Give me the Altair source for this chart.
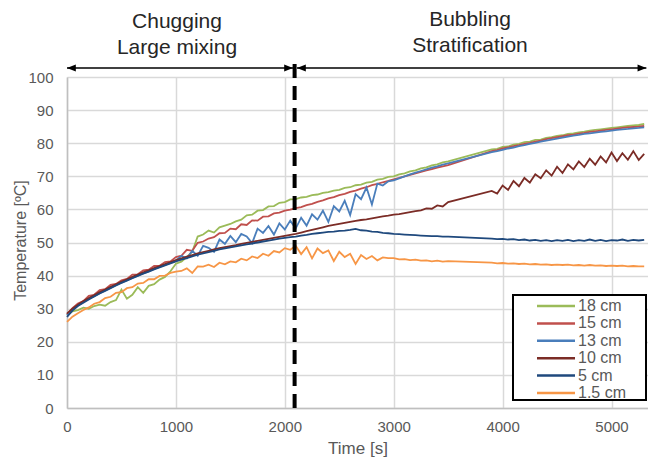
import altair as alt
import pandas as pd

# sampling times [s] (logger gap between 3500 s and 3900 s)
TIME = list(range(0, 3501, 50)) + list(range(3900, 5301, 50))

SERIES = ["18 cm", "15 cm", "13 cm", "10 cm", "5 cm", "1.5 cm"]
COLORS = ["#9BBB59", "#C0504D", "#4A7EBB", "#7B2C26", "#1F497D", "#F79646"]

T18 = [28.0, 29.2, 29.6, 30.3, 30.0, 30.8, 31.2, 30.9, 32.0, 32.6,
       35.8, 33.0, 34.2, 36.5, 34.8, 36.9, 37.4, 38.8, 39.6, 41.3,
       43.6, 44.2, 45.6, 47.2, 51.8, 52.4, 53.6, 53.0, 54.6, 55.1,
       55.6, 56.4, 56.9, 58.2, 58.4, 59.6, 59.8, 60.9, 61.0, 62.0,
       62.2, 63.0, 63.1, 63.6, 63.8, 64.3, 64.5, 65.0, 65.2, 65.7,
       65.9, 66.5, 66.7, 67.3, 67.5, 68.1, 68.3, 69.0, 69.2, 69.8,
       70.0, 70.6, 70.9, 71.5, 71.8, 72.4, 72.7, 73.3, 73.6, 74.2,
       74.5,
       78.1, 78.3, 78.9, 79.0, 79.6, 79.8, 80.3, 80.5, 81.0, 81.1,
       81.6, 81.8, 82.2, 82.4, 82.8, 83.0, 83.3, 83.5, 83.8, 84.0,
       84.2, 84.4, 84.6, 84.8, 85.0, 85.2, 85.4, 85.5, 85.8]

T15 = [28.4, 30.2, 31.6, 32.3, 33.9, 34.2, 35.6, 35.9, 37.2, 37.5,
       38.6, 39.0, 40.3, 40.4, 41.6, 41.8, 42.9, 43.0, 44.1, 44.3,
       45.6, 46.0, 47.8, 47.5, 49.9, 50.3, 51.2, 51.6, 52.8, 52.9,
       54.2, 54.0, 55.5, 55.3, 56.7, 56.6, 57.8, 57.9, 58.8, 59.0,
       59.6, 59.9, 60.4, 60.7, 61.3, 61.7, 62.3, 62.7, 63.3, 63.7,
       64.3, 64.7, 65.3, 65.7, 66.3, 66.7, 67.3, 67.7, 68.2, 68.6,
       69.1, 69.5, 70.0, 70.4, 70.9, 71.3, 71.8, 72.2, 72.6, 73.0,
       73.4,
       77.6, 77.9, 78.4, 78.7, 79.1, 79.4, 79.8, 80.1, 80.5, 80.8,
       81.2, 81.5, 81.8, 82.1, 82.4, 82.6, 82.9, 83.1, 83.4, 83.6,
       83.8, 84.0, 84.2, 84.4, 84.6, 84.8, 84.9, 85.0, 85.2]

T13 = [28.0, 29.8, 31.0, 32.0, 33.0, 33.8, 34.7, 35.5, 36.3, 37.1,
       37.9, 38.6, 39.3, 40.0, 40.7, 41.3, 42.0, 42.6, 43.2, 43.8,
       44.5, 46.0, 45.2, 47.5, 46.0, 49.0, 48.4, 47.2, 50.9, 49.6,
       52.0, 50.1, 52.6, 51.8, 49.8, 54.2, 52.9, 55.0, 52.4, 55.8,
       53.9, 56.6, 54.2, 57.5, 55.1, 58.5, 56.9, 59.6, 56.2, 61.0,
       59.4, 62.6, 58.3, 64.6, 63.1, 66.6, 61.5, 67.8, 67.2, 68.5,
       68.8, 69.4, 70.0, 70.6, 71.1, 71.6, 72.1, 72.6, 73.0, 73.5,
       73.9,
       77.3, 77.6, 78.0, 78.4, 78.7, 79.1, 79.4, 79.8, 80.1, 80.5,
       80.8, 81.1, 81.4, 81.7, 82.0, 82.3, 82.5, 82.8, 83.0, 83.2,
       83.4, 83.6, 83.8, 84.0, 84.2, 84.3, 84.5, 84.6, 84.8]

T10 = [28.5, 30.0, 31.2, 32.3, 33.2, 34.1, 35.0, 35.8, 36.6, 37.4,
       38.2, 38.9, 39.6, 40.3, 41.0, 41.6, 42.3, 42.9, 43.5, 44.1,
       44.7, 45.2, 45.7, 46.2, 46.7, 47.1, 47.5, 47.9, 48.3, 48.6,
       48.9, 49.2, 49.6, 49.9, 50.2, 50.5, 50.8, 51.1, 51.4, 51.7,
       52.0, 52.3, 52.6, 53.0, 53.4, 53.8, 54.2, 54.6, 55.0, 55.3,
       55.6, 55.9, 56.2, 56.5, 56.8, 57.0, 57.3, 57.6, 57.9, 58.1,
       58.4, 58.6, 58.9, 59.2, 59.5, 59.7, 60.3, 60.2, 61.2, 60.9,
       62.2,
       65.6, 64.8, 67.2, 65.9, 68.6, 67.0, 69.5, 68.1, 70.6, 69.4,
       71.8, 70.2, 72.9, 71.0, 73.6, 72.1, 74.5, 72.8, 75.3, 73.5,
       76.0, 74.2, 77.2, 74.6, 77.0, 75.0, 77.6, 74.9, 76.8]

T5 = [27.5, 29.4, 30.8, 31.8, 32.8, 33.7, 34.6, 35.4, 36.2, 37.0,
      37.8, 38.5, 39.2, 39.9, 40.6, 41.2, 41.9, 42.5, 43.1, 43.7,
      44.3, 44.8, 45.3, 45.8, 46.3, 46.7, 47.1, 47.5, 47.9, 48.2,
      48.5, 48.8, 49.1, 49.4, 49.7, 50.0, 50.3, 50.6, 50.9, 51.2,
      51.4, 51.6, 51.8, 52.1, 52.3, 52.6, 52.8, 53.0, 53.2, 53.3,
      53.5, 53.6, 53.8, 54.1, 53.7, 53.6, 53.3, 53.2, 52.9, 52.8,
      52.6, 52.5, 52.4, 52.3, 52.2, 52.1, 52.0, 51.9, 51.9, 51.8,
      51.8,
      51.2, 51.0, 51.1, 50.9, 51.0, 50.7, 50.9, 50.6, 50.8, 50.5,
      50.7, 50.4, 50.7, 50.5, 50.8, 50.4, 50.7, 50.5, 50.9, 50.5,
      50.8, 50.4, 50.7, 50.6, 50.9, 50.5, 50.8, 50.6, 50.8]

T1_5 = [26.0, 27.6, 28.6, 29.6, 30.4, 31.5, 32.0, 33.2, 33.6, 34.8,
        35.0, 36.2, 36.5, 37.6, 37.8, 38.9, 38.9, 39.9, 40.0, 40.8,
        41.2, 41.4, 42.2, 40.8, 42.8, 42.7, 43.3, 42.6, 43.9, 43.4,
        44.3, 44.0, 45.1, 44.6, 45.8, 45.3, 46.6, 46.0, 47.4, 47.0,
        48.3, 47.8, 49.0, 46.5, 48.6, 45.2, 48.2, 46.8, 47.6, 44.4,
        47.2, 45.6, 46.6, 43.5, 46.2, 45.0, 45.9, 44.6, 45.5, 45.3,
        45.3, 44.9, 45.0, 44.7, 44.8, 44.5, 44.6, 44.3, 44.5, 44.2,
        44.4,
        43.9, 43.7, 43.8, 43.6, 43.7, 43.5, 43.6, 43.4, 43.5, 43.3,
        43.4, 43.2, 43.3, 43.2, 43.3, 43.1, 43.2, 43.0, 43.2, 43.0,
        43.1, 42.9, 43.0, 42.9, 43.0, 42.8, 42.9, 42.8, 42.8]

X_TICKS = [0, 1000, 2000, 3000, 4000, 5000]
Y_TICKS = [0, 10, 20, 30, 40, 50, 60, 70, 80, 90, 100]
SWITCH_TIME = 2090

rows = []
for name, vals in zip(SERIES, [T18, T15, T13, T10, T5, T1_5]):
    assert len(vals) == len(TIME), (name, len(vals))
    for t, v in zip(TIME, vals):
        rows.append({"time": t, "temp": v, "series": name})
df = pd.DataFrame(rows)
one = pd.DataFrame({"k": [0]})

FONT = "Liberation Sans"
GREY = "#595959"

# plot area: 581 px wide (page must stay within 640 px), 109 px per 1000 s
xscale = alt.Scale(domain=[0, 5335], nice=False, zero=False)
yscale = alt.Scale(domain=[0, 100], nice=False)

lines = alt.Chart(df).mark_line(strokeWidth=1.8).encode(
    x=alt.X("time:Q", scale=xscale, axis=alt.Axis(
        values=X_TICKS, format="d", title="Time [s]", grid=True,
        gridColor="#d9d9d9", gridWidth=1.5, domainColor="#bfbfbf",
        domainWidth=1.5, ticks=False, tickSize=0, labelFlush=False,
        labelPadding=11, labelFontSize=15, labelColor=GREY, labelFont=FONT,
        titleFont=FONT, titleFontSize=17, titleColor=GREY,
        titleFontWeight="normal", titleY=40, titleBaseline="middle")),
    y=alt.Y("temp:Q", scale=yscale, axis=alt.Axis(
        values=Y_TICKS, title="Temperature [ºC]", grid=True,
        gridColor="#d9d9d9", gridWidth=1.5, domainColor="#bfbfbf",
        domainWidth=1.5, ticks=False, tickSize=0,
        labelPadding=14, labelFontSize=15, labelColor=GREY, labelFont=FONT,
        titleFont=FONT, titleFontSize=16, titleColor=GREY,
        titleFontWeight="normal", titleAngle=-90, titleX=-47, titleY=163,
        titleBaseline="middle", titleAlign="center")),
    color=alt.Color("series:N", sort=SERIES,
                    scale=alt.Scale(domain=SERIES, range=COLORS),
                    legend=None),
)

dash = alt.Chart(one).mark_rule(strokeDash=[14, 8], strokeWidth=4,
                                color="black").encode(
    x=alt.datum(SWITCH_TIME), y=alt.value(-13), y2=alt.value(331))

ARROW_Y = -9
arrow_l = alt.Chart(one).mark_rule(strokeWidth=1.5, color="black").encode(
    x=alt.datum(0), x2=alt.datum(2075), y=alt.value(ARROW_Y))
arrow_r = alt.Chart(one).mark_rule(strokeWidth=1.5, color="black").encode(
    x=alt.datum(2112), x2=alt.datum(5320), y=alt.value(ARROW_Y))

LEFT_HEAD = "M0,0 L2.2,-0.9 L2.2,0.9 Z"
RIGHT_HEAD = "M0,0 L-2.2,-0.9 L-2.2,0.9 Z"


def head(t, shape):
    return alt.Chart(one).mark_point(shape=shape, filled=True, size=64,
                                     color="black", opacity=1).encode(
        x=alt.datum(t), y=alt.value(ARROW_Y))


heads = [head(0, LEFT_HEAD), head(2075, RIGHT_HEAD),
         head(2112, LEFT_HEAD), head(5320, RIGHT_HEAD)]


def label(txt, px, py):
    return alt.Chart(one).mark_text(font=FONT, fontSize=21, color="#262626",
                                    align="center", baseline="middle").encode(
        x=alt.value(px - 67), y=alt.value(py - 77), text=alt.value(txt))


texts = [label("Chugging", 177, 22), label("Large mixing", 177, 48),
         label("Bubbling", 470, 20), label("Stratification", 470, 46)]

# legend box and entries
legend_box = alt.Chart(one).mark_rect(fill="white", stroke="black",
                                      strokeWidth=2).encode(
    x=alt.value(446), x2=alt.value(579), y=alt.value(218), y2=alt.value(323))

legend_layers = []
for i, (name, col) in enumerate(zip(SERIES, COLORS)):
    yy = 229 + 17.4 * i
    legend_layers.append(
        alt.Chart(one).mark_rule(strokeWidth=2.5, color=col).encode(
            x=alt.value(470), x2=alt.value(508), y=alt.value(yy)))
    legend_layers.append(
        alt.Chart(one).mark_text(font=FONT, fontSize=16, color=GREY,
                                 align="left", baseline="middle").encode(
            x=alt.value(511), y=alt.value(yy), text=alt.value(name)))

chart = alt.layer(lines, dash, arrow_l, arrow_r, *heads, *texts,
                  legend_box, *legend_layers).properties(
    width=581, height=331,
    autosize=alt.AutoSizeParams(type="none"),
    padding={"left": 59, "top": 69, "right": 0, "bottom": 50},
).configure_view(strokeWidth=0)

chart.save("out.html", embed_options={"renderer": "svg", "actions": False})
